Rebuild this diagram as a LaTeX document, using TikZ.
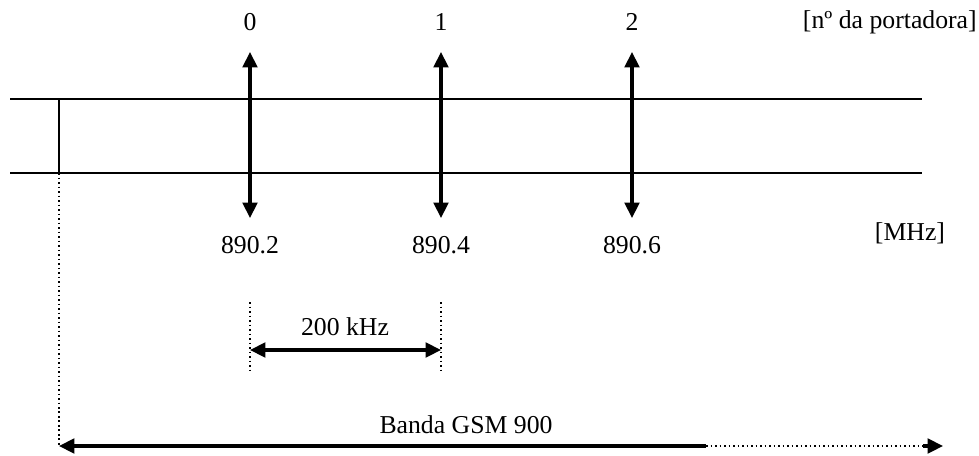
\documentclass[tikz,border=0pt]{standalone}
\usepackage{fontspec}
\setmainfont{Liberation Serif}
\usetikzlibrary{arrows.meta, positioning}

\tikzset{
  lbl/.style={inner sep=0pt, font=\fontsize{18.3}{21}\selectfont},
  banda/.style={line width=1.3pt},
  seta/.style={line width=2.2pt, {Triangle[length=11pt, width=10.5pt]}-{Triangle[length=11pt, width=10.5pt]}},
  ponto/.style={line width=1.2pt, dotted}
}

\begin{document}
\begin{tikzpicture}[x=0.025cm, y=-0.025cm]
  \useasboundingbox (0,0) rectangle (979,455);

  % banda (duas linhas horizontais)
  \coordinate (ba) at (10,99);   \coordinate (bb) at (922,99);
  \coordinate (bc) at (10,173);  \coordinate (bd) at (922,173);
  \draw[banda] (ba) -- (bb);
  \draw[banda] (bc) -- (bd);
  \coordinate (lim1) at (59,99); \coordinate (lim2) at (59,173);
  \draw[banda] (lim1) -- (lim2);

  % portadoras
  \foreach \n/\x/\f in {0/250/890.2, 1/441/890.4, 2/632/890.6} {
    \node[lbl] (p\n) at (\x,22) {\n};
    \node[lbl] (f\n) at (\x,245) {\f};
    \coordinate (t\n) at (\x,52);
    \coordinate (u\n) at (\x,218);
    \draw[seta] (t\n) -- (u\n);
  }
  \node[lbl, anchor=east] (nport) at (977,22) {[nº da portadora]};
  \node[lbl] (mhz) at (910,233) {[MHz]};

  % espacamento de 200 kHz
  \coordinate (d0a) at (250,302); \coordinate (d0b) at (250,370);
  \coordinate (d1a) at (441,302); \coordinate (d1b) at (441,370);
  \draw[ponto] (d0a) -- (d0b);
  \draw[ponto] (d1a) -- (d1b);
  \coordinate (e0) at (250,350); \coordinate (e1) at (441,350);
  \draw[seta] (e0) -- (e1);
  \node[lbl] (khz) at (345,327) {200 kHz};

  % banda GSM 900
  \coordinate (g0) at (59,446);
  \coordinate (gm) at (706,446);
  \coordinate (g1) at (943,446);
  \draw[ponto] (lim2) -- (g0);
  \draw[line width=2.2pt, {Triangle[length=11pt, width=10.5pt]}-] (g0) -- (gm);
  \draw[ponto] (gm) -- ([xshift=-14pt]g1);
  \draw[line width=2.2pt, -{Triangle[length=11pt, width=10.5pt]}] ([xshift=-14pt]g1) -- (g1);
  \node[lbl] (gsm) at (466,425) {Banda GSM 900};
\end{tikzpicture}
\end{document}
